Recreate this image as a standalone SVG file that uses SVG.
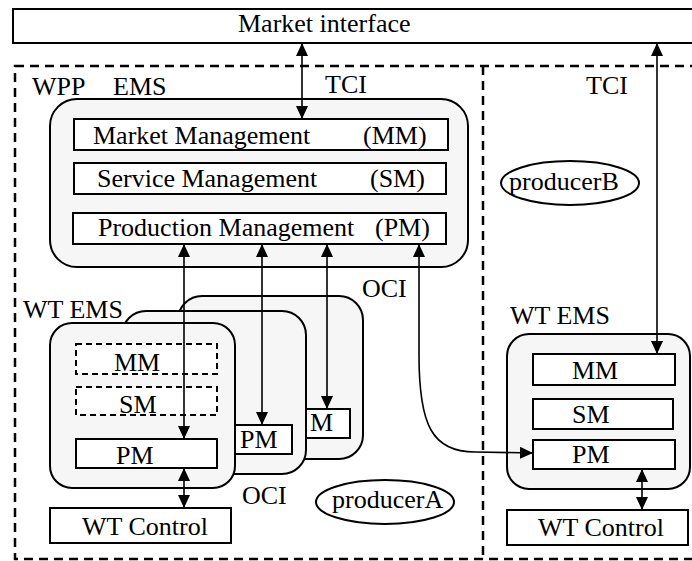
<svg xmlns="http://www.w3.org/2000/svg" width="692" height="561" viewBox="0 0 692 561">
<style>
text{font-family:'Liberation Serif','Times New Roman','DejaVu Serif',serif;font-size:26px;fill:#000}
.box{fill:#fff;stroke:#000;stroke-width:2}
.dbox{fill:#fff;stroke:#000;stroke-width:2;stroke-dasharray:6,4}
.ems{fill:#f6f6f6;stroke:#000;stroke-width:2}
.outer{fill:none;stroke:#000;stroke-width:2.5;stroke-dasharray:9,6}
.ell{fill:#fff;stroke:#000;stroke-width:2}
.con{fill:none;stroke:#000;stroke-width:1.6;marker-start:url(#ah);marker-end:url(#ah)}
</style>
<defs>
<marker id="ah" viewBox="0 0 13 12" refX="13" refY="6" markerWidth="13" markerHeight="12" markerUnits="userSpaceOnUse" orient="auto-start-reverse">
<path d="M0,0 L13,6 L0,12 z" fill="#000"/>
</marker>
</defs>
<rect width="692" height="561" fill="#fff"/>

<g id="market-interface">
<rect class="box" x="13" y="9" width="700" height="34"/>
<text x="238" y="32">Market interface</text>
</g>

<g id="regions">
<rect class="outer" x="15" y="66" width="700" height="493"/>
<line class="outer" x1="483" y1="66" x2="483" y2="559"/>
</g>

<g id="labels">
<text><tspan x="32" y="95">WPP</tspan><tspan x="113" y="95">EMS</tspan></text>
<text x="325" y="93">TCI</text>
<text x="586" y="94">TCI</text>
<text x="362" y="297">OCI</text>
<text x="242" y="504">OCI</text>
</g>

<g id="wpp-ems">
<rect class="ems" x="50" y="99" width="418" height="168" rx="27"/>
<rect class="box" x="74" y="119" width="374" height="31"/>
<text x="93" y="144">Market Management</text>
<text x="363" y="144">(MM)</text>
<rect class="box" x="74" y="163" width="372" height="31"/>
<text x="97" y="187">Service Management</text>
<text x="370" y="187">(SM)</text>
<rect class="box" x="73" y="213" width="373" height="31"/>
<text x="98" y="236">Production Management</text>
<text x="375" y="236">(PM)</text>
</g>

<g id="wt-ems-back">
<rect class="ems" x="178" y="296" width="185" height="163" rx="24"/>
<rect class="box" x="306" y="409" width="44" height="29"/>
<text x="310" y="431">M</text>
</g>

<g id="wt-ems-middle">
<rect class="ems" x="122" y="311" width="184" height="163" rx="24"/>
<rect class="box" x="235" y="425" width="57" height="29"/>
<text x="240" y="448">PM</text>
</g>

<g id="wt-ems-front">
<text x="23" y="318">WT EMS</text>
<rect class="ems" x="50" y="323" width="185" height="165" rx="22"/>
<rect class="dbox" x="76" y="344" width="141" height="30"/>
<text x="114" y="371">MM</text>
<rect class="dbox" x="76" y="387" width="141" height="28"/>
<text x="119" y="413">SM</text>
<rect class="box" x="76" y="439" width="141" height="29"/>
<text x="116" y="464">PM</text>
</g>

<g id="wt-control-a">
<rect class="box" x="50" y="508" width="181" height="35"/>
<text x="82" y="535">WT Control</text>
</g>

<g id="producerA">
<ellipse class="ell" cx="385" cy="502" rx="69" ry="22"/>
<text x="332" y="508">producerA</text>
</g>

<g id="producerB">
<ellipse class="ell" cx="570" cy="183" rx="69" ry="22"/>
<text x="509" y="190">producerB</text>
</g>

<g id="wt-ems-b">
<text x="510" y="324">WT EMS</text>
<rect class="ems" x="507" y="334" width="183" height="155" rx="22"/>
<rect class="box" x="533" y="354" width="142" height="31"/>
<text x="572" y="379">MM</text>
<rect class="box" x="533" y="399" width="140" height="30"/>
<text x="572" y="423">SM</text>
<rect class="box" x="533" y="440" width="142" height="29"/>
<text x="572" y="463">PM</text>
</g>

<g id="wt-control-b">
<rect class="box" x="507" y="510" width="181" height="35"/>
<text x="538" y="536">WT Control</text>
</g>

<g id="connectors">
<line class="con" x1="302" y1="43" x2="302" y2="119"/>
<line class="con" x1="657" y1="43" x2="657" y2="354"/>
<line class="con" x1="184" y1="244" x2="184" y2="439"/>
<line class="con" x1="262" y1="244" x2="262" y2="425"/>
<line class="con" x1="327" y1="244" x2="327" y2="409"/>
<path class="con" d="M419,244 L419,355 C419,425 432,452 475,452 L533,453"/>
<line class="con" x1="184" y1="468" x2="184" y2="508"/>
<line class="con" x1="642" y1="469" x2="642" y2="510"/>
</g>
</svg>
